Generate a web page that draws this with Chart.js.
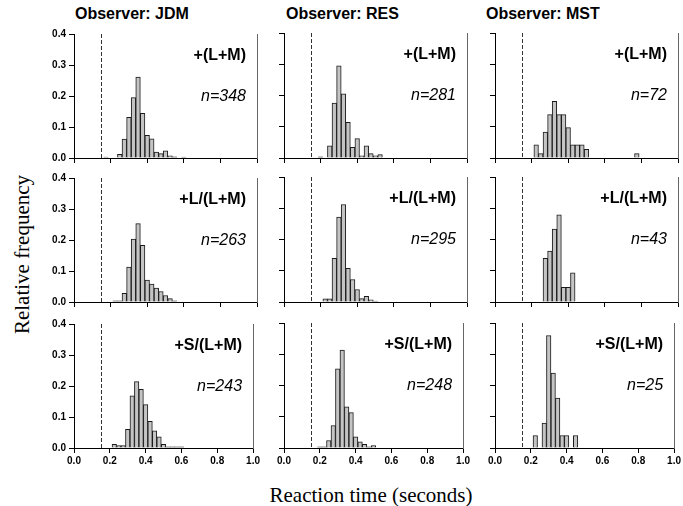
<!DOCTYPE html>
<html>
<head>
<meta charset="utf-8">
<script src="https://cdn.jsdelivr.net/npm/chart.js@4/dist/chart.umd.min.js"></script>
<style>
body { margin: 0; background: #fff; }
#wrap { position: relative; width: 683px; height: 506px; overflow: hidden; font-family: "Liberation Sans", Arial, sans-serif; }
#wrap canvas { position: absolute; }
.obs { position: absolute; top: 5.5px; font-weight: bold; font-size: 16px; line-height: 16px; white-space: nowrap; }
.xt { position: absolute; left: 171px; top: 485px; width: 400px; text-align: center; font-family: "Liberation Serif", "Times New Roman", serif; font-size: 21px; line-height: 21px; }
.yt { position: absolute; left: -128px; top: 243.5px; width: 300px; height: 21px; text-align: center; font-family: "Liberation Serif", "Times New Roman", serif; font-size: 21px; line-height: 21px; transform: rotate(-90deg); }
</style>
</head>
<body>
<div id="wrap">
  <div class="obs" style="left:75px">Observer: JDM</div>
  <div class="obs" style="left:286px">Observer: RES</div>
  <div class="obs" style="left:486px">Observer: MST</div>
  <div class="yt">Relative frequency</div>
  <div class="xt">Reaction time (seconds)</div>
</div>
<script>
// bin centres (s), 0.025 s bins
const binCenters = [0.175, 0.2, 0.225, 0.25, 0.275, 0.3, 0.325, 0.35, 0.375, 0.4, 0.425, 0.45, 0.475,
                    0.5, 0.525, 0.55, 0.575, 0.6, 0.625, 0.65, 0.675, 0.7, 0.725, 0.75, 0.775, 0.8];

// relative frequency per bin, one array per observer / condition
const jdmLM = [0.003, 0, 0, 0.012, 0.061, 0.131, 0.195, 0.261, 0.144, 0.073, 0.062, 0.019, 0.014,
               0.023, 0.007, 0.004, 0, 0.003, 0, 0, 0, 0, 0, 0, 0, 0];
const resLM = [0, 0.004, 0, 0.039, 0.176, 0.295, 0.205, 0.114, 0.034, 0.062, 0.007, 0.039, 0.014,
               0.007, 0.011, 0, 0, 0, 0, 0, 0, 0, 0, 0, 0, 0];
const mstLM = [0, 0, 0.042, 0.014, 0.083, 0.139, 0.181, 0.139, 0.139, 0.097, 0.042, 0.042, 0.042,
               0.028, 0, 0, 0, 0, 0, 0, 0, 0, 0, 0, 0.014, 0];
const jdmL  = [0, 0, 0.004, 0.004, 0.028, 0.113, 0.203, 0.253, 0.183, 0.071, 0.058, 0.045, 0.034,
               0.021, 0.011, 0.004, 0, 0, 0, 0, 0, 0, 0, 0, 0, 0];
const resL  = [0, 0, 0.010, 0.010, 0.140, 0.272, 0.312, 0.108, 0.072, 0.040, 0.011, 0.018, 0.007,
               0.003, 0, 0, 0, 0, 0, 0, 0, 0, 0, 0, 0, 0];
const mstL  = [0, 0, 0, 0, 0.140, 0.163, 0.233, 0.279, 0.047, 0.047, 0.093, 0, 0,
               0, 0, 0, 0, 0, 0, 0, 0, 0, 0, 0, 0, 0];
const jdmS  = [0, 0, 0.012, 0.008, 0.008, 0.060, 0.168, 0.214, 0.189, 0.140, 0.086, 0.055, 0.036,
               0.012, 0.004, 0.004, 0.004, 0.004, 0, 0, 0, 0, 0, 0, 0, 0];
const resS  = [0, 0.004, 0.004, 0.024, 0.072, 0.253, 0.313, 0.132, 0.113, 0.036, 0.020, 0.012, 0.004,
               0.008, 0, 0, 0, 0, 0, 0, 0, 0, 0, 0, 0, 0];
const mstS  = [0, 0, 0.040, 0, 0.080, 0.360, 0.240, 0.160, 0.040, 0.040, 0, 0.040, 0,
               0, 0, 0, 0, 0, 0, 0, 0, 0, 0, 0, 0, 0];

const conditions = ['+(L+M)', '+L/(L+M)', '+S/(L+M)'];
const nJDM = [348, 263, 243];
const nRES = [281, 295, 248];
const nMST = [72, 43, 25];

const yTicks = [0.0, 0.1, 0.2, 0.3, 0.4];
const xTicks = [0.0, 0.2, 0.4, 0.6, 0.8, 1.0];
const cutoff = 0.15;

const grid = [
  [jdmLM, resLM, mstLM],
  [jdmL, resL, mstL],
  [jdmS, resS, mstS]
];
const counts = [nJDM, nRES, nMST];

// panel geometry
const colLeft = [74, 284, 495];
const rowTop = [33, 177, 323];
const plotW = 183, plotH = 125;
const padL = 40, padR = 5, padT = 8, padB = 30;

const tickFont = { family: 'Liberation Sans', size: 10, weight: 'bold' };

const panelText = {
  id: 'panelText',
  afterDatasetsDraw(chart, args, opts) {
    const { ctx, chartArea: a, scales: { x } } = chart;
    const px = Math.round(x.getPixelForValue(cutoff)) + 0.5;
    ctx.save();
    ctx.strokeStyle = '#333';
    ctx.lineWidth = 1;
    ctx.setLineDash([4, 2]);
    ctx.beginPath();
    ctx.moveTo(px, a.top);
    ctx.lineTo(px, a.bottom);
    ctx.stroke();
    ctx.setLineDash([]);
    ctx.fillStyle = '#000';
    ctx.textAlign = 'right';
    ctx.font = 'bold 16px "Liberation Sans"';
    ctx.fillText(opts.label, a.right - 11, a.top + 26);
    ctx.font = 'italic 16px "Liberation Sans"';
    ctx.fillText('n=' + opts.n, a.right - 11, a.top + 67);
    ctx.restore();
  }
};

const wrap = document.getElementById('wrap');

for (let r = 0; r < 3; r++) {
  for (let c = 0; c < 3; c++) {
    const cv = document.createElement('canvas');
    const w = padL + plotW + padR, h = padT + plotH + padB;
    cv.width = w; cv.height = h;
    cv.style.left = (colLeft[c] - padL) + 'px';
    cv.style.top = (rowTop[r] - padT) + 'px';
    cv.style.width = w + 'px'; cv.style.height = h + 'px';
    wrap.appendChild(cv);

    const vals = grid[r][c];
    new Chart(cv, {
      type: 'bar',
      data: {
        datasets: [{
          data: binCenters.map((b, i) => ({ x: b, y: vals[i] })),
          backgroundColor: '#c4c4c4',
          borderColor: '#1a1a1a',
          borderWidth: 1,
          categoryPercentage: 1,
          barPercentage: 1
        }]
      },
      options: {
        responsive: false,
        animation: false,
        devicePixelRatio: 1,
        layout: { padding: { top: padT, left: 0, right: 0, bottom: 0 } },
        plugins: {
          legend: { display: false },
          tooltip: { enabled: false },
          panelText: { label: conditions[r], n: counts[c][r] }
        },
        scales: {
          x: {
            type: 'linear', min: 0, max: 1, offset: false,
            grid: { offset: false, drawOnChartArea: false, tickLength: 5, color: '#000' },
            border: { color: '#000', width: 1 },
            ticks: {
              display: r === 2, color: '#000', font: tickFont, maxRotation: 0, autoSkip: false, padding: 2,
              callback: v => v.toFixed(1)
            },
            afterBuildTicks: s => { s.ticks = xTicks.map(v => ({ value: v })); },
            afterFit: s => { s.height = padB; }
          },
          y: {
            min: 0, max: 0.4,
            grid: { drawOnChartArea: false, tickLength: 5, color: '#000' },
            border: { color: '#000', width: 1 },
            ticks: {
              display: c === 0, color: '#000', font: tickFont, padding: 3,
              callback: v => v.toFixed(1)
            },
            afterBuildTicks: s => { s.ticks = yTicks.map(v => ({ value: v })); },
            afterFit: s => { s.width = padL; }
          },
          y2: {
            position: 'right', min: 0, max: 0.4,
            grid: { display: false },
            ticks: { display: false },
            border: { display: true, color: '#666', width: 1 },
            afterFit: s => { s.width = padR; }
          }
        }
      },
      plugins: [panelText]
    });
  }
}
</script>
</body>
</html>
